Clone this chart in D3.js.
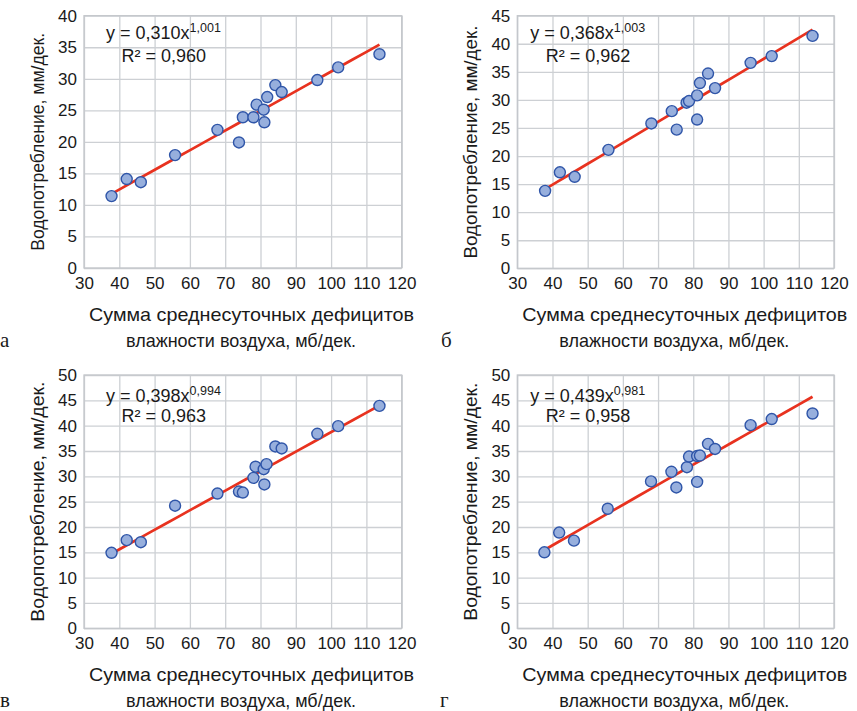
<!DOCTYPE html>
<html>
<head>
<meta charset="utf-8">
<script src="https://cdn.jsdelivr.net/npm/d3@7"></script>
<style>
  body { margin: 0; background: #fff; }
  text { font-family: "Liberation Sans", Arial, sans-serif; fill: #1a1a1a; }
  .letter { font-family: "Liberation Serif", "DejaVu Serif", serif; }
</style>
</head>
<body>
<div id="chart"></div>
<script>
// x: сумма дефицитов влажности, y: водопотребление
const xA = [37.8, 42.1, 46.1, 55.8, 67.8, 73.9, 75.0, 78.0, 78.9, 80.9, 81.1, 81.9, 84.2, 86.0, 96.1, 102.0, 113.7];
const yA = [11.4, 14.1, 13.6, 17.9, 21.9, 19.9, 23.9, 23.9, 25.9, 25.1, 23.1, 27.1, 29.0, 27.9, 29.8, 31.8, 33.9];

const xB = [37.9, 42.1, 46.3, 55.9, 68.1, 75.3, 73.9, 78.1, 78.8, 81.1, 81.1, 81.9, 84.2, 86.2, 96.3, 102.3, 113.9];
const yB = [13.8, 17.1, 16.3, 21.1, 25.8, 24.7, 28.0, 29.5, 29.8, 26.5, 30.8, 33.0, 34.7, 32.1, 36.6, 37.8, 41.4];

const xC = [37.8, 42.1, 46.1, 55.8, 67.8, 73.9, 75.0, 78.0, 78.6, 80.9, 81.1, 81.7, 84.2, 86.0, 96.1, 102.0, 113.7];
const yC = [14.9, 17.4, 17.0, 24.2, 26.6, 27.0, 26.8, 29.7, 31.9, 31.4, 28.4, 32.4, 35.9, 35.5, 38.4, 39.9, 43.9];

const xD = [37.7, 41.9, 46.1, 55.7, 68.0, 75.2, 73.8, 78.2, 78.8, 81.1, 81.1, 81.9, 84.2, 86.2, 96.3, 102.3, 113.9];
const yD = [15.0, 18.9, 17.3, 23.6, 29.0, 27.8, 30.9, 31.8, 33.9, 28.9, 34.0, 34.1, 36.4, 35.4, 40.1, 41.3, 42.4];

// степенной тренд y = a*x^b
const fitA = [0.310, 1.001], fitB = [0.368, 1.003], fitC = [0.398, 0.994], fitD = [0.439, 0.981];
const eqText = ["0,310", "0,368", "0,398", "0,439"];
const eqPow = ["1,001", "1,003", "0,994", "0,981"];
const r2Text = ["0,960", "0,962", "0,963", "0,958"];
const yMaxes = [40, 45, 50, 50];
const letters = ["а", "б", "в", "г"];
const xTicks = [30, 40, 50, 60, 70, 80, 90, 100, 110, 120];

const W = 857, H = 711;
const svg = d3.select("#chart").append("svg").attr("width", W).attr("height", H);

// layout of the four panels
const panels = [
  {xs: xA, ys: yA, fit: fitA, x0: 84, x1: 401.7, top: 15.7, bottom: 268, yLen: 218, lx: 0, ly: 347},
  {xs: xB, ys: yB, fit: fitB, x0: 517.3, x1: 834, top: 15.7, bottom: 268.3, yLen: 233, lx: 441, ly: 347},
  {xs: xC, ys: yC, fit: fitC, x0: 84, x1: 401.7, top: 375, bottom: 628.3, yLen: 240, lx: 0, ly: 707},
  {xs: xD, ys: yD, fit: fitD, x0: 517.3, x1: 834, top: 375, bottom: 628.3, yLen: 238, lx: 440, ly: 707}
];

panels.forEach(function(p, i) {
  const x = d3.scaleLinear().domain([30, 120]).range([p.x0, p.x1]);
  const y = d3.scaleLinear().domain([0, yMaxes[i]]).range([p.bottom, p.top]);
  const g = svg.append("g");

  // grid + tick labels
  const yAxis = g.append("g")
    .attr("transform", "translate(" + p.x0 + ",0)")
    .call(d3.axisLeft(y).tickValues(d3.range(0, yMaxes[i] + 1, 5))
      .tickSize(-(p.x1 - p.x0)).tickPadding(7).tickFormat(d3.format("d")));
  const xAxis = g.append("g")
    .attr("transform", "translate(0," + p.bottom + ")")
    .call(d3.axisBottom(x).tickValues(xTicks)
      .tickSize(-(p.bottom - p.top)).tickPadding(6).tickFormat(d3.format("d")));

  [yAxis, xAxis].forEach(function(a) {
    a.select(".domain").remove();
    a.selectAll(".tick line").attr("stroke", "#cdd0d4").attr("stroke-width", 1.3);
    a.selectAll(".tick text").attr("font-size", "17px").attr("fill", "#1a1a1a")
      .style("font-family", "'Liberation Sans', Arial, sans-serif");
  });
  xAxis.selectAll(".tick text").attr("dy", "0.88em");

  g.append("rect")
    .attr("x", p.x0).attr("y", p.top)
    .attr("width", p.x1 - p.x0).attr("height", p.bottom - p.top)
    .attr("fill", "none").attr("stroke", "#c4c7cb").attr("stroke-width", 1.3);

  // equation
  const eq = g.append("text")
    .attr("x", p.x0 + (i % 2 ? 13 : 22)).attr("y", p.top + (i < 2 ? 23 : 26.5))
    .attr("font-size", "18px");
  eq.append("tspan").text("y = " + eqText[i] + "x");
  eq.append("tspan").attr("font-size", "12.5px").attr("dy", -7).text(eqPow[i]);
  g.append("text")
    .attr("x", p.x0 + (i % 2 ? 28.5 : 37.5)).attr("y", p.top + (i < 2 ? 46 : 46.5))
    .attr("font-size", "18px")
    .text("R² = " + r2Text[i]);

  // trend line
  const xMin = d3.min(p.xs), xMax = d3.max(p.xs);
  const trendX = d3.range(0, 21).map(k => xMin + (xMax - xMin) * k / 20);
  g.append("path")
    .datum(trendX)
    .attr("fill", "none")
    .attr("stroke", "#e8321f")
    .attr("stroke-width", 2.7)
    .attr("d", d3.line()
      .x(d => x(d))
      .y(d => y(p.fit[0] * Math.pow(d, p.fit[1]))));

  // points
  g.selectAll("circle")
    .data(d3.range(p.xs.length))
    .enter().append("circle")
    .attr("cx", k => x(p.xs[k]))
    .attr("cy", k => y(p.ys[k]))
    .attr("r", 5.5)
    .attr("fill", "#97afdd")
    .attr("stroke", "#2f55a8")
    .attr("stroke-width", 1.4);

  // axis titles
  const ymid = (p.top + p.bottom) / 2;
  g.append("text")
    .attr("transform", "translate(" + (p.x0 - 40) + "," + ymid + ") rotate(-90)")
    .attr("text-anchor", "middle")
    .attr("font-size", "18.5px")
    .attr("textLength", p.yLen).attr("lengthAdjust", "spacingAndGlyphs")
    .text("Водопотребление, мм/дек.");

  g.append("text")
    .attr("x", p.x0 + 5).attr("y", p.bottom + 52.5)
    .attr("font-size", "18.5px")
    .attr("textLength", 325).attr("lengthAdjust", "spacingAndGlyphs")
    .text("Сумма среднесуточных дефицитов");
  g.append("text")
    .attr("x", p.x0 + 42).attr("y", p.bottom + 79)
    .attr("font-size", "18.5px")
    .attr("textLength", 230).attr("lengthAdjust", "spacingAndGlyphs")
    .text("влажности воздуха, мб/дек.");

  g.append("text")
    .attr("class", "letter")
    .attr("x", p.lx).attr("y", p.ly)
    .attr("font-size", "21px")
    .text(letters[i]);
});
</script>
</body>
</html>
